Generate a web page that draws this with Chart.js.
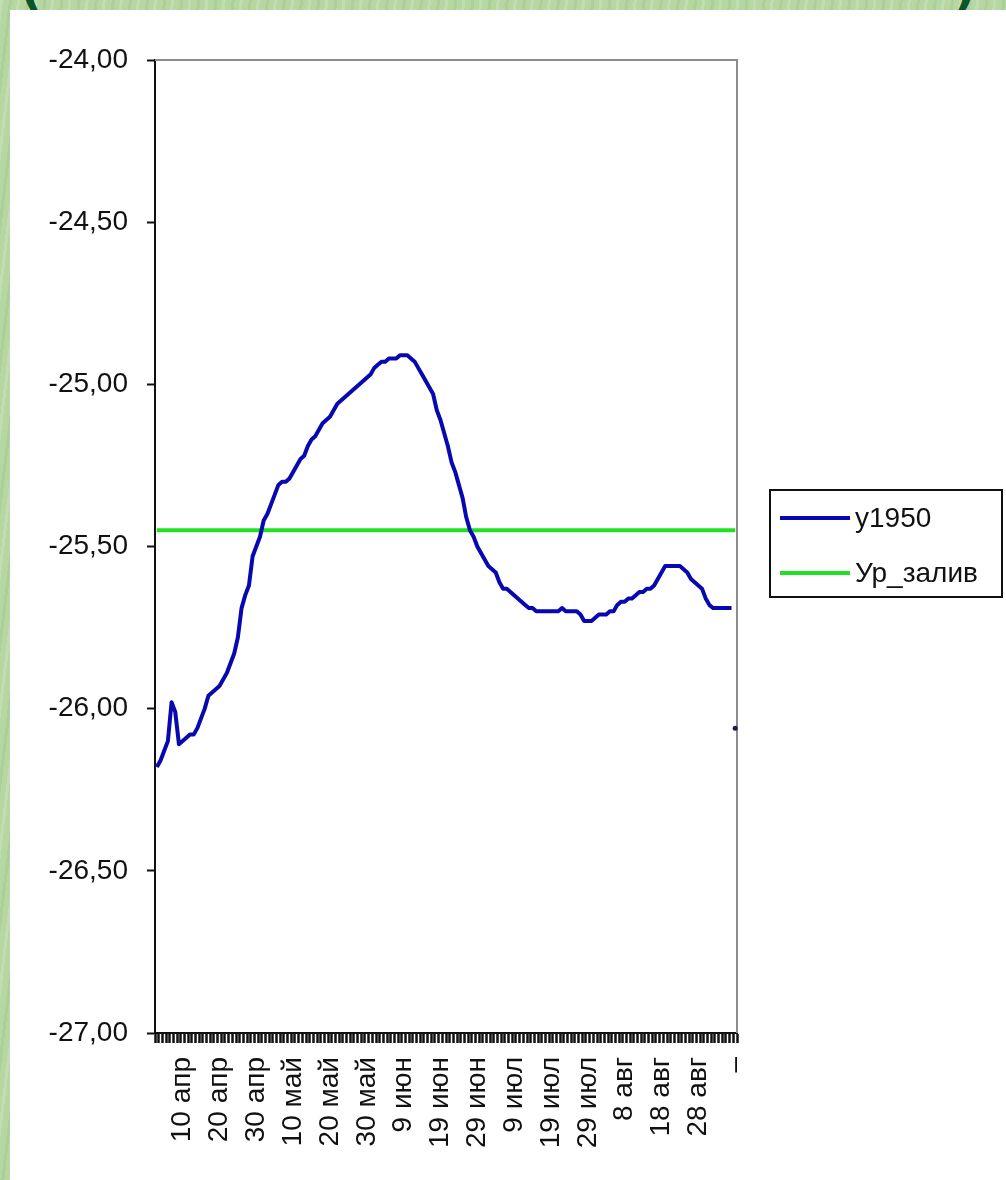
<!DOCTYPE html>
<html><head><meta charset="utf-8">
<script src="https://cdn.jsdelivr.net/npm/chart.js@4"></script>
<style>
html,body{margin:0;padding:0;}
body{width:1006px;height:1180px;overflow:hidden;position:relative;
 background:#b6d6a2;
 background-image:repeating-linear-gradient(97deg,rgba(255,255,255,0.18) 0 3px,rgba(0,0,0,0) 3px 9px,rgba(60,120,60,0.08) 9px 12px,rgba(0,0,0,0) 12px 17px);}
#panel{position:absolute;left:10px;top:10px;width:996px;height:1170px;background:#fff;}
canvas{display:block;}
.paren{position:absolute;top:-40px;font:bold 48px "DejaVu Sans";color:#0a5529;}
</style></head><body>
<div class="paren" style="left:20px">(</div>
<div class="paren" style="left:954px">)</div>
<div id="panel"><canvas id="c" width="996" height="1170"></canvas></div>
<script>
// ---- data ----
const monthNames = ["янв","фев","мар","апр","май","июн","июл","авг","сен","окт","ноя","дек"];
const monthLengths = [31,28,31,30,31,30,31,31,30,31,30,31];
const firstMonth = 3;   // April
const firstDay = 3;
const dayCount = 157;   // daily categories
const lastLabel = "–";  // final category label
const labelEvery = 10;
const labelOffset = 7;  // first shown label: 10 апр

const categories = [];
(function(){
  let m = firstMonth, d = firstDay;
  for (let i = 0; i < dayCount; i++) {
    categories.push(d + " " + monthNames[m]);
    d++; if (d > monthLengths[m]) { d = 1; m++; }
  }
  categories.push(lastLabel);
})();

const y1950 = [
 -26.18,-26.16,-26.13,-26.10,-25.98,-26.01,-26.11,-26.10,-26.09,-26.08,
 -26.08,-26.06,-26.03,-26.00,-25.96,-25.95,-25.94,-25.93,-25.91,-25.89,
 -25.86,-25.83,-25.78,-25.69,-25.65,-25.62,-25.53,-25.50,-25.47,-25.42,
 -25.40,-25.37,-25.34,-25.31,-25.30,-25.30,-25.29,-25.27,-25.25,-25.23,
 -25.22,-25.19,-25.17,-25.16,-25.14,-25.12,-25.11,-25.10,-25.08,-25.06,
 -25.05,-25.04,-25.03,-25.02,-25.01,-25.00,-24.99,-24.98,-24.97,-24.95,
 -24.94,-24.93,-24.93,-24.92,-24.92,-24.92,-24.91,-24.91,-24.91,-24.92,
 -24.93,-24.95,-24.97,-24.99,-25.01,-25.03,-25.08,-25.11,-25.15,-25.19,
 -25.24,-25.27,-25.31,-25.35,-25.41,-25.45,-25.47,-25.50,-25.52,-25.54,
 -25.56,-25.57,-25.58,-25.61,-25.63,-25.63,-25.64,-25.65,-25.66,-25.67,
 -25.68,-25.69,-25.69,-25.70,-25.70,-25.70,-25.70,-25.70,-25.70,-25.70,
 -25.69,-25.70,-25.70,-25.70,-25.70,-25.71,-25.73,-25.73,-25.73,-25.72,
 -25.71,-25.71,-25.71,-25.70,-25.70,-25.68,-25.67,-25.67,-25.66,-25.66,
 -25.65,-25.64,-25.64,-25.63,-25.63,-25.62,-25.60,-25.58,-25.56,-25.56,
 -25.56,-25.56,-25.56,-25.57,-25.58,-25.60,-25.61,-25.62,-25.63,-25.66,
 -25.68,-25.69,-25.69,-25.69,-25.69,-25.69,-25.69
];
const lastPointValue = -26.06;   // isolated point at the final category
const zalivLevel = -25.45;       // Ур_залив
const yMin = -27, yMax = -24, yStep = 0.5;

const seriesNames = ["y1950", "Ур_залив"];
const seriesColors = ["#0808b0", "#22e022"];

// ---- chart ----
const FONT = {family: '"Liberation Sans", Arial, sans-serif', size: 28};

const framePlugin = {
  id: 'frame',
  beforeDatasetsDraw(chart) {
    const {ctx, chartArea: a} = chart;
    ctx.save();
    ctx.strokeStyle = '#8c8c8c';
    ctx.lineWidth = 2;
    ctx.beginPath();
    ctx.moveTo(a.left, a.top);
    ctx.lineTo(a.right, a.top);
    ctx.lineTo(a.right, a.bottom);
    ctx.stroke();
    ctx.restore();
  },
  afterDraw(chart) {
    const {ctx} = chart;
    const box = {left: 760, top: 480, right: 992, bottom: 587};
    ctx.save();
    ctx.strokeStyle = '#111';
    ctx.lineWidth = 2;
    ctx.strokeRect(box.left, box.top, box.right - box.left, box.bottom - box.top);
    ctx.font = FONT.size + 'px ' + FONT.family;
    ctx.textBaseline = 'middle';
    ctx.fillStyle = '#111';
    const items = chart.data.datasets.filter(ds => !ds.hideInLegend);
    items.forEach((ds, k) => {
      const y = box.top + 28 + k * 55;
      ctx.strokeStyle = ds.borderColor;
      ctx.lineWidth = 4;
      ctx.beginPath();
      ctx.moveTo(box.left + 10, y);
      ctx.lineTo(box.left + 80, y);
      ctx.stroke();
      ctx.fillText(ds.label, box.left + 85, y + 1);
    });
    ctx.restore();
  }
};

new Chart(document.getElementById('c'), {
  type: 'line',
  data: {
    labels: categories,
    datasets: [
      {label: seriesNames[0], data: y1950, borderColor: seriesColors[0], backgroundColor: seriesColors[0],
       borderWidth: 4, pointRadius: 0, tension: 0, borderJoinStyle: 'round', order: 1},
      {label: seriesNames[1],
       data: [{x: categories[0], y: zalivLevel}, {x: categories[categories.length - 1], y: zalivLevel}],
       borderColor: seriesColors[1], backgroundColor: seriesColors[1],
       borderWidth: 4, pointRadius: 0, tension: 0, order: 2},
      {label: 'last', hideInLegend: true,
       data: [{x: categories[categories.length - 1], y: lastPointValue}],
       showLine: false, pointRadius: 2.5, pointBorderWidth: 0,
       backgroundColor: '#1a1a50', borderColor: '#1a1a50', order: 0}
    ]
  },
  options: {
    responsive: false,
    animation: false,
    layout: {padding: {top: 50, right: 269, left: 0, bottom: 0}},
    plugins: {legend: {display: false}, tooltip: {enabled: false}},
    scales: {
      x: {
        type: 'category',
        offset: true,
        afterFit(scale) { scale.height = 147; },
        grid: {display: true, drawOnChartArea: false, drawTicks: true, tickLength: 10,
               tickWidth: 2.5, tickColor: '#111', offset: true},
        border: {display: true, color: '#111', width: 2},
        ticks: {
          autoSkip: false, minRotation: 90, maxRotation: 90, padding: 14,
          color: '#111', font: FONT,
          callback: function(value, index) {
            return ((index - labelOffset) % labelEvery === 0) ? this.getLabelForValue(value) : '';
          }
        }
      },
      y: {
        min: yMin, max: yMax,
        afterFit(scale) { scale.width = 145; },
        grid: {display: true, drawOnChartArea: false, drawTicks: true, tickLength: 8,
               tickWidth: 2, tickColor: '#111'},
        border: {display: true, color: '#111', width: 2},
        ticks: {
          stepSize: yStep, padding: 19, color: '#111', font: FONT,
          callback: v => v.toFixed(2).replace('.', ',')
        }
      }
    }
  },
  plugins: [framePlugin]
});
</script>
</body></html>
